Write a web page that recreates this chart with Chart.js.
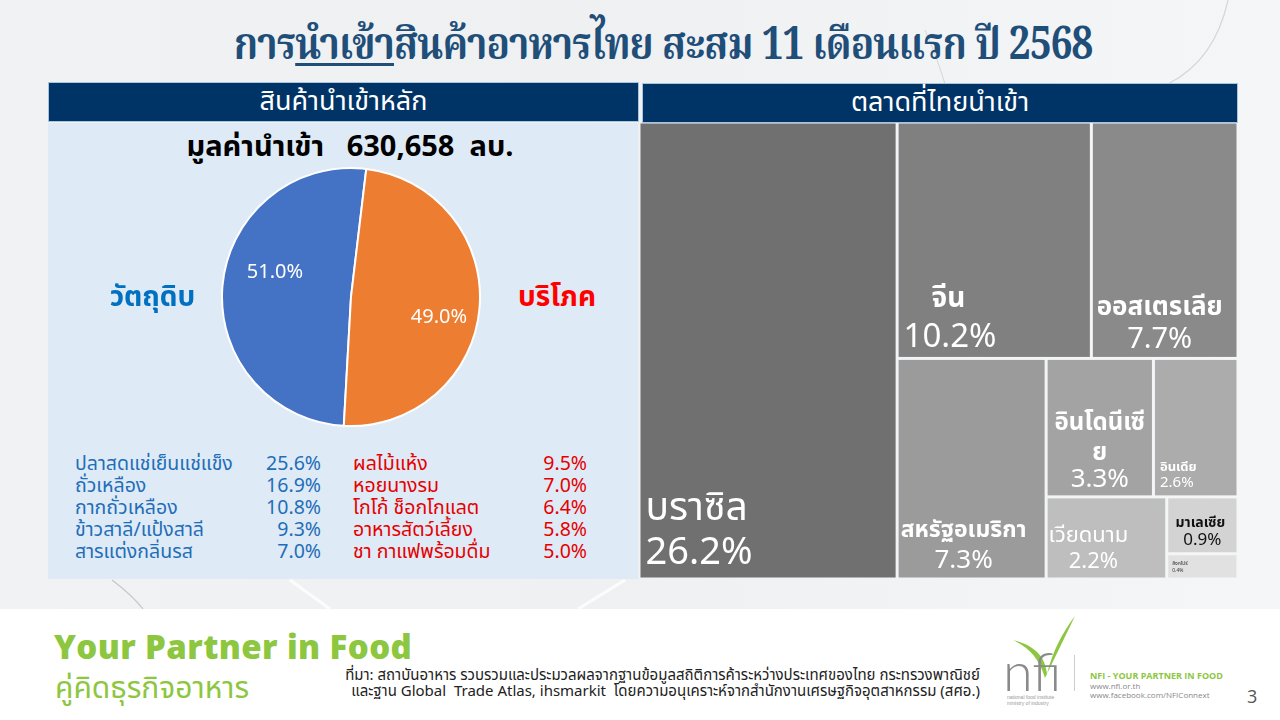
<!DOCTYPE html>
<html><head><meta charset="utf-8">
<script src="https://cdn.jsdelivr.net/npm/chart.js@4/dist/chart.umd.min.js"></script>
<style>
html,body{margin:0;padding:0;}
body{width:1280px;height:720px;position:relative;overflow:hidden;background:#fff;
 font-family:Tahoma,"Noto Sans Thai","Noto Sans Thai UI","Noto Sans","Open Sans",sans-serif;}
.abs{position:absolute;}
#bg{left:0;top:0;width:1280px;height:609px;background:linear-gradient(90deg,#f1f2f4 0%,#eef0f2 45%,#f5f6f7 100%);}
#title{left:0;top:11px;width:1326px;text-align:center;font-size:45px;font-weight:bold;color:#1f4e79;white-space:nowrap;
 font-family:"Noto Serif Thai","Noto Sans Thai","Noto Sans",serif;letter-spacing:-1px;transform:scaleX(0.86);transform-origin:663px 0;}
#title u{text-decoration-thickness:3px;text-underline-offset:4px;}
.hdr{background:#003366;color:#fff;font-size:27px;text-align:center;line-height:38px;height:40px;box-sizing:border-box;border:1px solid #a9c4de;}
#lpanel{left:48px;top:123px;width:590px;height:456px;background:#deeaf6;}
#value{left:48px;top:125px;width:604px;text-align:center;font-size:29px;font-weight:bold;color:#000;white-space:pre;}
.side{font-size:28px;font-weight:bold;}
.list{font-size:19.5px;line-height:22px;white-space:nowrap;}
#foot1{left:54px;top:624px;font-size:33px;font-weight:800;color:#8dc63f;font-family:"Open Sans",Lato,sans-serif;letter-spacing:0.4px;}
#foot2{left:55px;top:666px;font-size:30px;color:#8dc63f;}
#src{right:300px;top:668px;font-size:15px;line-height:16px;color:#222;text-align:right;white-space:pre;}
</style></head>
<body>
<div id="bg" class="abs"></div>
<svg class="abs" style="left:0;top:0" width="1280" height="609">
 <path d="M1228 0 Q1215 60 1168 84" stroke="#d4d6da" stroke-width="1.2" fill="none"/>
 <path d="M925 30 Q938 60 945 84" stroke="#d4d6da" stroke-width="1" fill="none"/>
 <path d="M112 580 Q132 595 143 609" stroke="#c4c6c9" stroke-width="1.2" fill="none"/>
 <path d="M290 580 L330 609" stroke="#ffffff" stroke-width="3" fill="none" opacity="0.8"/>
 <path d="M625 580 L578 609" stroke="#ffffff" stroke-width="3" fill="none" opacity="0.8"/>
</svg>
<div id="title" class="abs">การ<u>นำเข้า</u>สินค้าอาหารไทย สะสม 11 เดือนแรก ปี 2568</div>

<div class="abs hdr" style="left:48px;top:82px;width:591px;">สินค้านำเข้าหลัก</div>
<div class="abs hdr" style="left:642px;top:83px;width:596px;">ตลาดที่ไทยนำเข้า</div>
<div id="lpanel" class="abs"></div>
<div id="value" class="abs">มูลค่านำเข้า   630,658  ลบ.</div>

<div class="abs" style="left:221px;top:167px;width:260px;height:260px;"><canvas id="pie" width="260" height="260"></canvas></div>
<div id="sideL" class="abs side" style="left:80px;top:276px;width:145px;text-align:center;color:#0070c0;"></div>
<div id="sideR" class="abs side" style="left:488px;top:276px;width:138px;text-align:center;color:#ff0000;"></div>

<div id="listL" class="abs list" style="left:75px;top:453px;width:246px;color:#1f6eb8;"></div>
<div id="listR" class="abs list" style="left:353px;top:453px;width:234px;color:#e60000;"></div>

<div class="abs" style="left:639px;top:122px;width:599px;height:457px;"><canvas id="tree" width="599" height="457"></canvas></div>

<div id="foot1" class="abs">Your Partner in Food</div>
<div id="foot2" class="abs">คู่คิดธุรกิจอาหาร</div>
<div id="src" class="abs">ที่มา: สถาบันอาหาร รวบรวมและประมวลผลจากฐานข้อมูลสถิติการค้าระหว่างประเทศของไทย กระทรวงพาณิชย์
และฐาน Global  Trade Atlas, ihsmarkit  โดยความอนุเคราะห์จากสำนักงานเศรษฐกิจอุตสาหกรรม (สศอ.)</div>

<svg class="abs" style="left:995px;top:612px" width="90" height="100">
 <path d="M80 4 C68 20 58 38 52 62 C50 44 40 34 18 28 C34 36 44 46 50 66 Z" fill="#8dc63f"/>
 <text x="8" y="79" font-family="Lato,'Open Sans',sans-serif" font-size="54" fill="#8a8a8a" font-weight="300">nfi</text>
 <text x="12" y="87" font-size="5" fill="#999" font-family="sans-serif">national food institute</text>
 <text x="12" y="93" font-size="5" fill="#999" font-family="sans-serif">ministry of industry</text>
</svg>
<div class="abs" style="left:1074px;top:655px;width:1px;height:36px;background:#ccc;"></div>
<div class="abs" style="left:1090px;top:669px;font-size:9px;font-weight:bold;color:#8dc63f;font-family:'Open Sans',sans-serif;">NFI - YOUR PARTNER IN FOOD</div>
<div class="abs" style="left:1090px;top:681px;font-size:8px;line-height:9px;color:#888;font-family:'Open Sans',sans-serif;">www.nfi.or.th<br>www.facebook.com/NFIConnext</div>
<div class="abs" style="left:1247px;top:684px;font-size:18px;color:#555;font-family:'Open Sans',sans-serif;">3</div>

<script>
// ---------- DATA ----------
const pieLabels = ['วัตถุดิบ', 'บริโภค'];
const pieValues = [51.0, 49.0];
const rawNames = ['ปลาสดแช่เย็นแช่แข็ง', 'ถั่วเหลือง', 'กากถั่วเหลือง', 'ข้าวสาลี/แป้งสาลี', 'สารแต่งกลิ่นรส'];
const rawShares = [25.6, 16.9, 10.8, 9.3, 7.0];
const consNames = ['ผลไม้แห้ง', 'หอยนางรม', 'โกโก้ ช็อกโกแลต', 'อาหารสัตว์เลี้ยง', 'ชา กาแฟพร้อมดื่ม'];
const consShares = [9.5, 7.0, 6.4, 5.8, 5.0];
const countries = ['บราซิล', 'จีน', 'ออสเตรเลีย', 'สหรัฐอเมริกา', 'อินโดนีเซีย', 'อินเดีย', 'เวียดนาม', 'มาเลเซีย', 'สิงคโปร์'];
const countryShares = [26.2, 10.2, 7.7, 7.3, 3.3, 2.6, 2.2, 0.9, 0.4];

// ---------- STYLES ----------
const pieColors = ['#4472c4', '#ed7d31'];
const pieLabelOffsets = [[-76, -23], [88, 22]];
const cellColors = ['#707070', '#808080', '#8a8a8a', '#9b9b9b', '#a3a3a3', '#acacac', '#bebebe', '#d3d3d3', '#e1e1e1'];
const THAI = 'Tahoma,"Noto Sans Thai","Noto Sans",sans-serif';
// per-cell label layout: align, x offset, baseline offsets from cell bottom, font sizes
const cellLabelStyle = [
  {align:'left', dx:5, ndx:0, ny:-65, py:-21, ns:39, ps:38, nw:'normal', col:'#fff'},
  {align:'left', dx:5, ndx:28, ny:-56, py:-17, ns:28, ps:33, nw:'bold', col:'#fff'},
  {align:'center', dx:-5, ndx:0, ny:-47, py:-15, ns:26, ps:29, nw:'bold', col:'#fff'},
  {align:'center', dx:-8, ndx:0, ny:-45, py:-15, ns:23, ps:26, nw:'bold', col:'#fff'},
  {align:'center', dx:0, ndx:0, ny:-70, py:-14, ns:24, ps:26, nw:'bold', col:'#fff', wrap:10, wy:-40},
  {align:'left', dx:5, ndx:0, ny:-27, py:-11, ns:13, ps:15, nw:'bold', col:'#fff'},
  {align:'center', dx:-13, ndx:-5, ny:-40, py:-14, ns:22, ps:22, nw:'normal', col:'#fff'},
  {align:'center', dx:0, ndx:-2, ny:-28, py:-11, ns:14, ps:17, nw:'bold', col:'#111'},
  {align:'left', dx:4, ndx:0, ny:-14, py:-7, ns:5, ps:5, nw:'normal', col:'#333'}
];

// ---------- HTML text parts ----------
document.getElementById('sideL').textContent = pieLabels[0];
document.getElementById('sideR').textContent = pieLabels[1];
function fillList(id, names, vals){
  const el = document.getElementById(id);
  names.forEach((n,i)=>{
    const row = document.createElement('div');
    row.style.display='flex'; row.style.justifyContent='space-between';
    row.innerHTML = '<span></span><span></span>';
    row.children[0].textContent = n;
    row.children[1].textContent = vals[i].toFixed(1) + '%';
    el.appendChild(row);
  });
}
fillList('listL', rawNames, rawShares);
fillList('listR', consNames, consShares);

// ---------- PIE ----------
const pieLabelPlugin = {
  id:'pieLabels',
  afterDatasetsDraw(chart){
    const ctx = chart.ctx;
    const meta = chart.getDatasetMeta(0);
    ctx.save();
    ctx.fillStyle = '#fff';
    ctx.font = '20px ' + THAI;
    ctx.textAlign = 'center'; ctx.textBaseline = 'middle';
    meta.data.forEach((arc,i)=>{
      ctx.fillText(pieValues[i].toFixed(1) + '%', arc.x + pieLabelOffsets[i][0], arc.y + pieLabelOffsets[i][1]);
    });
    ctx.restore();
  }
};
new Chart(document.getElementById('pie'), {
  type:'pie',
  data:{labels:pieLabels, datasets:[{data:pieValues, backgroundColor:pieColors, borderColor:'#fff', borderWidth:2}]},
  options:{responsive:false, animation:false, rotation:183.2,
    layout:{padding:0},
    plugins:{legend:{display:false}, tooltip:{enabled:false}}},
  plugins:[pieLabelPlugin]
});

// ---------- TREEMAP (squarified layout, drawn through linear scales) ----------
const TM_W = 599, TM_H = 457;
function squarify(vals, rect){
  const total = vals.reduce((a,b)=>a+b,0);
  const area = rect.w*rect.h;
  const items = vals.map((v,i)=>({i, a:v/total*area}));
  const out = [];
  let r = {...rect}, idx = 0;
  while(idx < items.length){
    const side = Math.min(r.w, r.h);
    const worst = row => {
      const s = row.reduce((a,b)=>a+b.a,0);
      const mx = Math.max(...row.map(o=>o.a)), mn = Math.min(...row.map(o=>o.a));
      return Math.max(side*side*mx/(s*s), (s*s)/(side*side*mn));
    };
    let row = [items[idx]], j = idx+1;
    while(j < items.length){
      const cand = row.concat([items[j]]);
      if(worst(cand) <= worst(row)){ row = cand; j++; } else break;
    }
    const s = row.reduce((a,b)=>a+b.a,0);
    if(r.w >= r.h){
      const cw = s/r.h; let yy = r.y;
      row.forEach(o=>{ const hh=o.a/cw; out[o.i]={x0:r.x,x1:r.x+cw,y0:yy,y1:yy+hh}; yy+=hh; });
      r = {x:r.x+cw, y:r.y, w:r.w-cw, h:r.h};
    } else {
      const rh = s/r.w; let xx = r.x;
      row.forEach(o=>{ const ww=o.a/rh; out[o.i]={x0:xx,x1:xx+ww,y0:r.y,y1:r.y+rh}; xx+=ww; });
      r = {x:r.x, y:r.y+rh, w:r.w, h:r.h-rh};
    }
    idx = j;
  }
  return out;
}
const cells = squarify(countryShares, {x:0, y:0, w:TM_W, h:TM_H});

const treemapPlugin = {
  id:'treemapCells',
  afterDatasetsDraw(chart){
    const ctx = chart.ctx, xs = chart.scales.x, ys = chart.scales.y;
    const g = 1.5;
    ctx.save();
    cells.forEach((c,i)=>{
      const px0 = xs.getPixelForValue(c.x0)+g, px1 = xs.getPixelForValue(c.x1)-g;
      const py0 = ys.getPixelForValue(c.y0)+g, py1 = ys.getPixelForValue(c.y1)-g;
      ctx.fillStyle = cellColors[i];
      ctx.fillRect(px0, py0, px1-px0, py1-py0);
      const st = cellLabelStyle[i];
      const bx = st.align==='left' ? px0 + st.dx : (px0+px1)/2 + st.dx;
      ctx.fillStyle = st.col;
      ctx.textAlign = st.align; ctx.textBaseline = 'middle';
      ctx.font = st.nw + ' ' + st.ns + 'px ' + THAI;
      const name = countries[i];
      if(st.wrap){
        ctx.fillText(name.slice(0, st.wrap), bx + st.ndx, py1 + st.ny);
        ctx.fillText(name.slice(st.wrap), bx + st.ndx, py1 + st.wy);
      } else {
        ctx.fillText(name, bx + st.ndx, py1 + st.ny);
      }
      ctx.font = st.ps + 'px ' + THAI;
      ctx.fillText(countryShares[i].toFixed(1) + '%', bx, py1 + st.py);
    });
    ctx.restore();
  }
};
new Chart(document.getElementById('tree'), {
  type:'scatter',
  data:{labels:countries, datasets:[{data:cells.map((c,i)=>({x:(c.x0+c.x1)/2, y:(c.y0+c.y1)/2, v:countryShares[i]})), pointRadius:0}]},
  options:{responsive:false, animation:false, layout:{padding:0},
    scales:{x:{type:'linear', min:0, max:TM_W, display:false}, y:{type:'linear', min:0, max:TM_H, reverse:true, display:false}},
    plugins:{legend:{display:false}, tooltip:{enabled:false}}},
  plugins:[treemapPlugin]
});
</script>
</body></html>
